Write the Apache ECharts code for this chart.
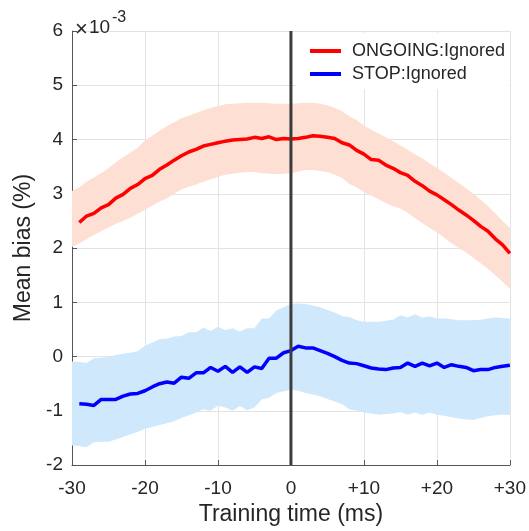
<!DOCTYPE html>
<html>
<head>
<meta charset="utf-8">
<script src="https://cdn.jsdelivr.net/npm/echarts@6/dist/echarts.min.js"></script>
<style>html,body{margin:0;padding:0;background:#fff}#c{width:529px;height:531px}</style>
</head>
<body>
<div id="c"></div>
<script>
// Training time (ms)
const times = [-30,-29,-28,-27,-26,-25,-24,-23,-22,-21,-20,-19,-18,-17,-16,-15,-14,-13,-12,-11,-10,-9,-8,-7,-6,-5,-4,-3,-2,-1,0,1,2,3,4,5,6,7,8,9,10,11,12,13,14,15,16,17,18,19,20,21,22,23,24,25,26,27,28,29,30];
// Mean bias (x10^-3); first point (t=-30) has no line value
const ongoingMean = [null,2.47,2.59,2.64,2.74,2.80,2.92,2.99,3.10,3.17,3.28,3.34,3.45,3.53,3.62,3.70,3.77,3.82,3.88,3.91,3.94,3.97,3.99,4.00,4.01,4.04,4.02,4.05,4.00,4.02,4.01,4.02,4.04,4.07,4.06,4.04,4.02,3.94,3.90,3.80,3.73,3.63,3.62,3.53,3.47,3.39,3.34,3.23,3.15,3.05,2.98,2.89,2.80,2.70,2.61,2.51,2.40,2.31,2.17,2.06,1.90];
const ongoingUpper = [3.05,3.12,3.22,3.30,3.38,3.47,3.58,3.67,3.76,3.85,3.98,4.07,4.16,4.25,4.32,4.39,4.44,4.49,4.54,4.58,4.62,4.65,4.66,4.67,4.68,4.68,4.68,4.67,4.66,4.66,4.66,4.67,4.68,4.68,4.66,4.63,4.58,4.52,4.43,4.36,4.26,4.18,4.11,4.04,3.97,3.89,3.81,3.73,3.65,3.56,3.48,3.39,3.29,3.20,3.10,3.00,2.89,2.77,2.64,2.50,2.37];
const ongoingLower = [2.02,2.09,2.16,2.24,2.31,2.38,2.45,2.50,2.56,2.63,2.70,2.78,2.86,2.92,3.00,3.08,3.13,3.17,3.22,3.27,3.31,3.35,3.37,3.39,3.40,3.40,3.38,3.37,3.36,3.37,3.38,3.41,3.44,3.44,3.42,3.40,3.35,3.29,3.18,3.12,3.03,2.97,2.90,2.83,2.77,2.73,2.65,2.55,2.46,2.37,2.29,2.19,2.09,2.00,1.92,1.82,1.72,1.62,1.50,1.38,1.25];
const stopMean = [null,-0.87,-0.88,-0.90,-0.79,-0.79,-0.79,-0.73,-0.69,-0.68,-0.63,-0.56,-0.50,-0.47,-0.49,-0.38,-0.40,-0.30,-0.30,-0.20,-0.27,-0.18,-0.29,-0.19,-0.29,-0.19,-0.22,-0.03,-0.03,0.07,0.11,0.19,0.16,0.16,0.11,0.06,0.00,-0.07,-0.12,-0.13,-0.17,-0.21,-0.23,-0.24,-0.21,-0.20,-0.12,-0.18,-0.12,-0.17,-0.12,-0.20,-0.15,-0.18,-0.20,-0.26,-0.24,-0.24,-0.20,-0.18,-0.16];
const stopUpper = [-0.09,-0.10,-0.12,-0.03,-0.02,-0.01,0.03,0.05,0.07,0.10,0.20,0.26,0.32,0.33,0.37,0.38,0.45,0.45,0.53,0.47,0.55,0.49,0.52,0.46,0.52,0.52,0.70,0.70,0.85,0.91,0.97,0.98,0.97,0.94,0.91,0.86,0.81,0.75,0.73,0.67,0.64,0.64,0.64,0.66,0.68,0.76,0.72,0.78,0.72,0.74,0.70,0.70,0.69,0.67,0.67,0.67,0.68,0.70,0.72,0.71,0.70];
const stopLower = [-1.64,-1.65,-1.67,-1.58,-1.57,-1.57,-1.53,-1.48,-1.43,-1.39,-1.33,-1.30,-1.26,-1.23,-1.19,-1.13,-1.08,-1.03,-0.97,-1.00,-0.90,-0.94,-1.00,-0.91,-0.99,-0.94,-0.79,-0.76,-0.67,-0.64,-0.61,-0.63,-0.67,-0.70,-0.73,-0.78,-0.83,-0.88,-0.97,-1.00,-1.03,-1.05,-1.07,-1.06,-1.05,-1.02,-1.07,-1.03,-1.07,-1.03,-1.07,-1.09,-1.12,-1.14,-1.16,-1.17,-1.13,-1.10,-1.08,-1.07,-1.07];
const seriesNames = ['ONGOING:Ignored','STOP:Ignored'];
const xTicks = {min:-30, max:30, step:10};
const yTicks = {min:-2, max:6, step:1};
const exponentTimes = '\u00d7';
const exponentBase = '10';
const exponentPower = '-3';
const xTitle = 'Training time (ms)';
const yTitle = 'Mean bias (%)';

const FONT = '"Liberation Sans", Arial, Helvetica, sans-serif';
const TXT = '#262626';

function band(upper, lower, color) {
  return {
    type: 'custom', silent: true, z: 1,
    data: [0],
    renderItem: function (params, api) {
      const pts = [];
      for (let i = 0; i < times.length; i++) pts.push(api.coord([times[i], upper[i]]));
      for (let i = times.length - 1; i >= 0; i--) pts.push(api.coord([times[i], lower[i]]));
      return {type: 'polygon', shape: {points: pts}, style: {fill: color, stroke: null}};
    }
  };
}
function pairs(vals) { return times.map((t, i) => [t, vals[i]]); }

const chart = echarts.init(document.getElementById('c'), null, {renderer: 'canvas'});
chart.setOption({
  animation: false,
  backgroundColor: '#fff',
  grid: {left: 72, right: 18, top: 31, bottom: 62, containLabel: false},
  xAxis: {
    type: 'value', min: xTicks.min, max: xTicks.max, interval: xTicks.step,
    name: xTitle, nameLocation: 'middle', nameGap: 37,
    nameTextStyle: {fontFamily: FONT, fontSize: 23, color: TXT},
    axisLine: {show: true, onZero: false, lineStyle: {color: '#555', width: 1}},
    axisTick: {show: true, inside: true, length: 5, lineStyle: {color: '#555'}},
    axisLabel: {fontFamily: FONT, fontSize: 19, color: TXT, margin: 14,
      formatter: v => (v > 0 ? '+' + v : String(v))},
    splitLine: {show: true, lineStyle: {color: '#e3e3e3', width: 1}}
  },
  yAxis: {
    type: 'value', min: yTicks.min, max: yTicks.max, interval: yTicks.step,
    name: yTitle, nameLocation: 'middle', nameGap: 37,
    nameTextStyle: {fontFamily: FONT, fontSize: 23, color: TXT},
    axisLine: {show: true, onZero: false, lineStyle: {color: '#555', width: 1}},
    axisTick: {show: true, inside: true, length: 5, lineStyle: {color: '#555'}},
    axisLabel: {fontFamily: FONT, fontSize: 19, color: TXT, margin: 9},
    splitLine: {show: true, lineStyle: {color: '#e3e3e3', width: 1}}
  },
  legend: {
    data: seriesNames, orient: 'vertical', left: 296, top: 33,
    padding: [9, 4, 6, 14], itemGap: 5, itemWidth: 31, itemHeight: 4,
    icon: 'rect', backgroundColor: '#fff',
    textStyle: {fontFamily: FONT, fontSize: 18, color: TXT, padding: [0, 0, 0, 6]}
  },
  graphic: [
    {type: 'text', left: 75, top: 19, z: 10,
     style: {text: exponentTimes, fontSize: 22, fontFamily: FONT, fill: TXT}},
    {type: 'text', left: 89, top: 18, z: 10,
     style: {text: exponentBase, fontSize: 19, fontFamily: FONT, fill: TXT}},
    {type: 'text', left: 112, top: 10, z: 10,
     style: {text: exponentPower, fontSize: 16, fontFamily: FONT, fill: TXT}}
  ],
  series: [
    band(ongoingUpper, ongoingLower, '#fddfd3'),
    band(stopUpper, stopLower, '#cfe8fb'),
    {name: seriesNames[0], type: 'line', data: pairs(ongoingMean), showSymbol: false, symbol: 'none',
     color: '#ff0000', lineStyle: {color: '#ff0000', width: 3.5}, z: 3, connectNulls: false},
    {name: seriesNames[1], type: 'line', data: pairs(stopMean), showSymbol: false, symbol: 'none',
     color: '#0000ff', lineStyle: {color: '#0000ff', width: 3.5}, z: 3, connectNulls: false},
    {type: 'line', data: [[0, yTicks.min], [0, yTicks.max]], symbol: 'none', silent: true,
     lineStyle: {color: '#3c3c3c', width: 3}, z: 4}
  ]
});
</script>
</body>
</html>
